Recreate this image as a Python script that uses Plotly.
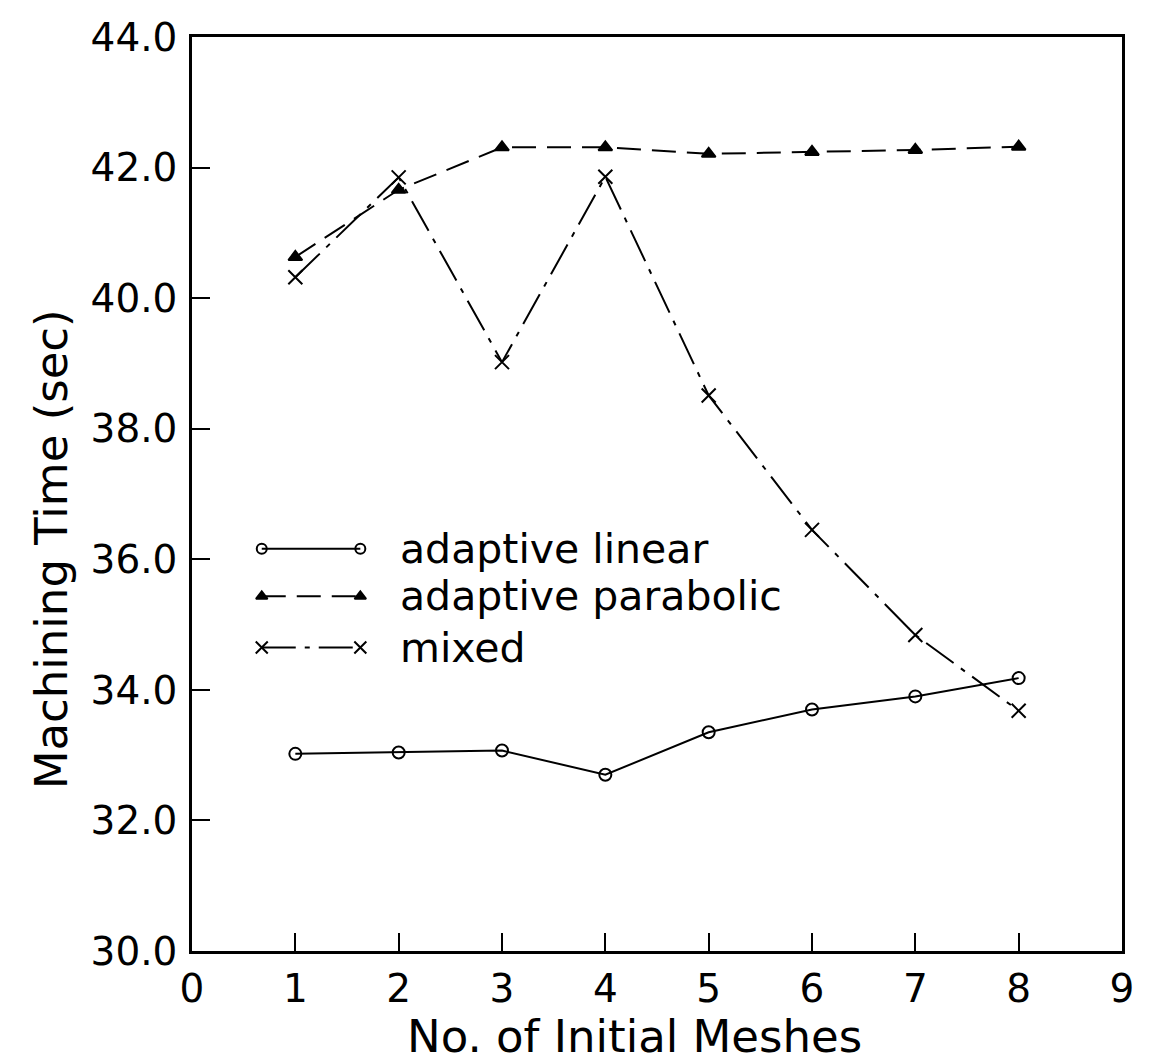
import plotly.graph_objects as go

# ---- data ----
meshes = [1, 2, 3, 4, 5, 6, 7, 8]
adaptive_linear = [33.02, 33.04, 33.07, 32.70, 33.35, 33.70, 33.90, 34.18]
adaptive_parabolic = [40.63, 41.66, 42.31, 42.31, 42.21, 42.24, 42.27, 42.32]
mixed = [40.32, 41.85, 39.02, 41.86, 38.51, 36.45, 34.84, 33.68]
series_names = ["adaptive linear", "adaptive parabolic", "mixed"]
x_tick_vals = [0, 1, 2, 3, 4, 5, 6, 7, 8, 9]
y_tick_vals = [30, 32, 34, 36, 38, 40, 42, 44]
x_title = "No. of Initial Meshes"
y_title = "Machining Time (sec)"

FONT = "DejaVu Sans"
styles = [
    dict(dash="solid", symbol="circle-open", size=12),
    dict(dash="24px,11px", symbol="triangle-up", size=12),
    dict(dash="34px,9px,5px,9px", symbol="x-thin-open", size=14),
]
series_values = [adaptive_linear, adaptive_parabolic, mixed]

fig = go.Figure()
for name, vals, st in zip(series_names, series_values, styles):
    fig.add_trace(go.Scatter(
        x=meshes, y=vals, mode="lines+markers", name=name, showlegend=False,
        line=dict(color="black", width=2, dash=st["dash"]),
        marker=dict(symbol=st["symbol"], size=st["size"], color="black",
                    line=dict(color="black", width=2)),
    ))

# custom legend (line sample with a marker at each end) on a hidden 0..1 overlay axis
leg_x0, leg_x1, leg_text_x = 0.075, 0.181, 0.222
leg_rows = [0.440, 0.388, 0.332]
for name, st, ry in zip(series_names, styles, leg_rows):
    fig.add_trace(go.Scatter(
        x=[leg_x0, leg_x1], y=[ry, ry], xaxis="x2", yaxis="y2",
        mode="lines+markers", showlegend=False, hoverinfo="skip",
        line=dict(color="black", width=2, dash=st["dash"]),
        marker=dict(symbol=st["symbol"], size=st["size"] - 2, color="black",
                    line=dict(color="black", width=2)),
    ))
    fig.add_annotation(x=leg_text_x, y=ry, xref="paper", yref="paper",
                       text=name, showarrow=False, xanchor="left", yanchor="middle",
                       font=dict(family=FONT, size=41, color="black"))

# axis titles
fig.add_annotation(x=0.476, y=-0.094, xref="paper", yref="paper", text=x_title,
                   showarrow=False, xanchor="center", yanchor="middle",
                   font=dict(family=FONT, size=45, color="black"))
fig.add_annotation(x=-0.151, y=0.439, xref="paper", yref="paper", text=y_title,
                   showarrow=False, xanchor="center", yanchor="middle", textangle=-90,
                   font=dict(family=FONT, size=45, color="black"))

axis_common = dict(
    showgrid=False, zeroline=False, showline=True, linecolor="black", linewidth=2.5,
    mirror=True, ticks="inside", tickcolor="black", tickwidth=2, ticklen=18,
    tickfont=dict(family=FONT, size=39, color="black"),
)

fig.update_layout(
    width=1145, height=1055,
    paper_bgcolor="white", plot_bgcolor="white",
    margin=dict(l=184, r=31, t=29, b=112, autoexpand=False),
    xaxis=dict(**axis_common, range=[0, 9], tickmode="array", tickvals=x_tick_vals,
               ticklabelstandoff=1),
    yaxis=dict(**axis_common, range=[30, 44], tickmode="array", tickvals=y_tick_vals,
               tickformat=".1f", ticklabelstandoff=4),
    xaxis2=dict(overlaying="x", range=[0, 1], visible=False),
    yaxis2=dict(overlaying="y", range=[0, 1], visible=False),
)

fig.write_html("out.html")
